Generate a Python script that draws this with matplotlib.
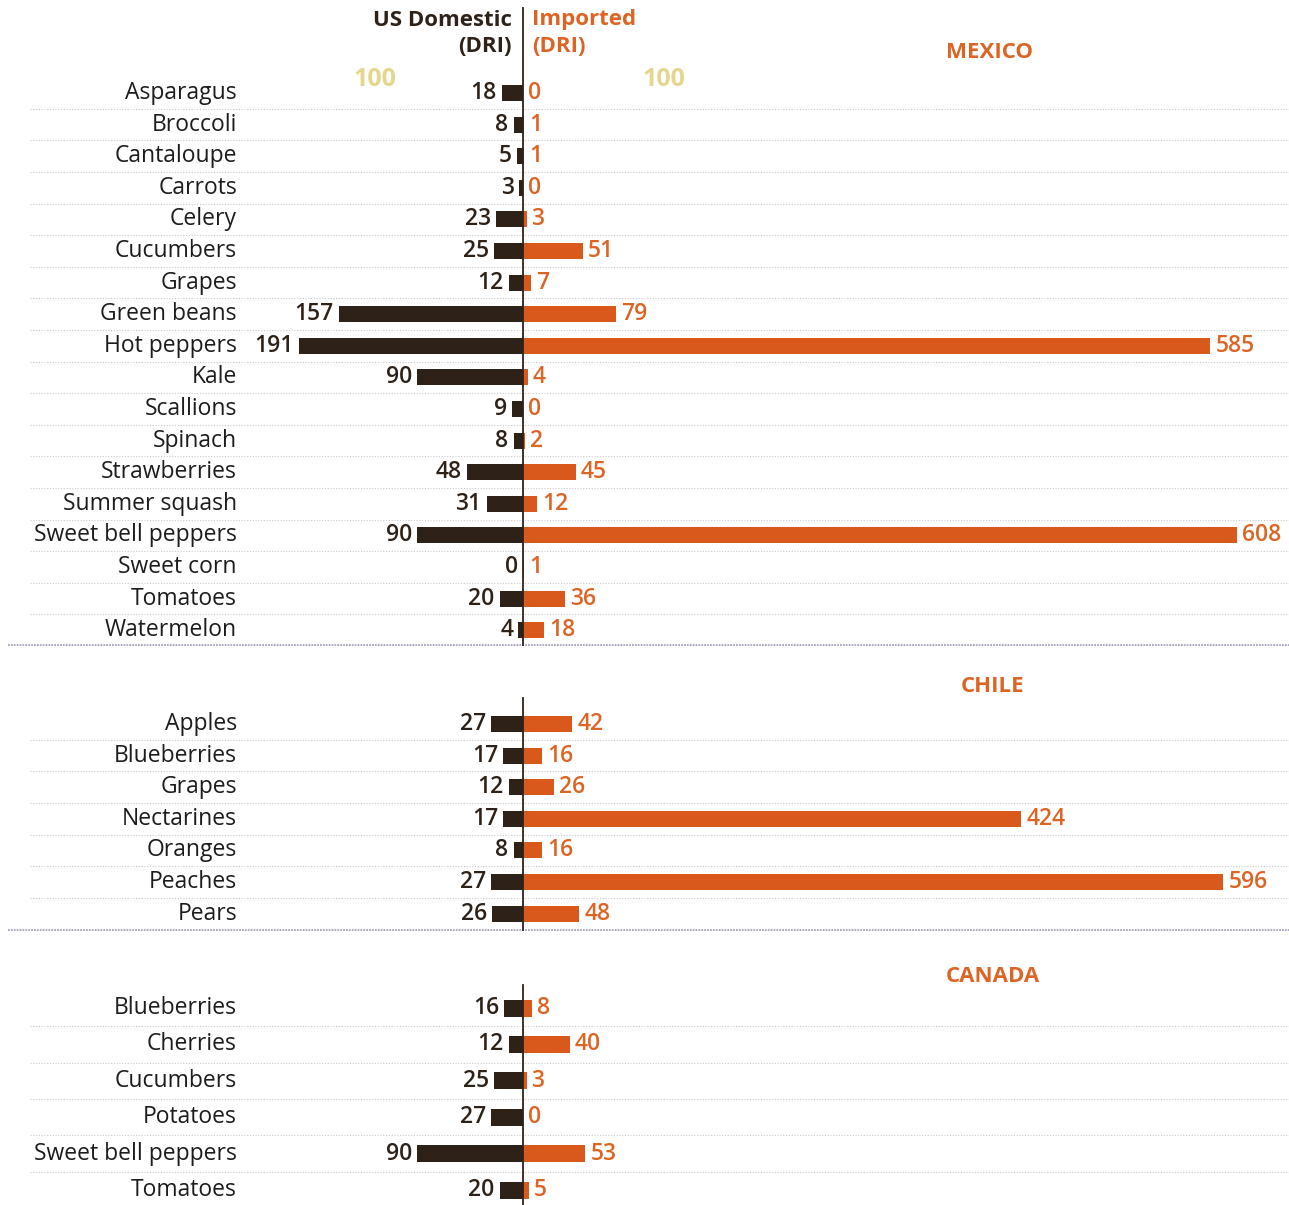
import matplotlib
matplotlib.use("Agg")
import matplotlib.pyplot as plt

# ---------------- data ----------------
mexico_items = ["Asparagus", "Broccoli", "Cantaloupe", "Carrots", "Celery", "Cucumbers",
                "Grapes", "Green beans", "Hot peppers", "Kale", "Scallions", "Spinach",
                "Strawberries", "Summer squash", "Sweet bell peppers", "Sweet corn",
                "Tomatoes", "Watermelon"]
mexico_us = [18, 8, 5, 3, 23, 25, 12, 157, 191, 90, 9, 8, 48, 31, 90, 0, 20, 4]
mexico_imp = [0, 1, 1, 0, 3, 51, 7, 79, 585, 4, 0, 2, 45, 12, 608, 1, 36, 18]

chile_items = ["Apples", "Blueberries", "Grapes", "Nectarines", "Oranges", "Peaches", "Pears"]
chile_us = [27, 17, 12, 17, 8, 27, 26]
chile_imp = [42, 16, 26, 424, 16, 596, 48]

canada_items = ["Blueberries", "Cherries", "Cucumbers", "Potatoes", "Sweet bell peppers", "Tomatoes"]
canada_us = [16, 12, 25, 27, 90, 20]
canada_imp = [8, 40, 3, 0, 53, 5]

header_left = ["US Domestic", "(DRI)"]
header_right = ["Imported", "(DRI)"]
ref_label = "100"

# ---------------- style ----------------
DARK = "#2e2218"
ORANGE = "#d9581b"
ORANGE_TXT = "#dc6424"
PALE = "#e5d68e"
TXT = "#1c1c1c"
GRID = "#c9c9cc"
SEP = "#a9a3b9"
FONT = "Open Sans"

W, H = 1289, 1205
fig = plt.figure(figsize=(W / 100, H / 100), dpi=100)
fig.patch.set_facecolor("white")

CENTER = 523.0   # px of zero line
SCALE = 1.175    # px per DRI unit
xmin = -CENTER / SCALE
xmax = (W - CENTER) / SCALE


def px2x(px):
    return (px - CENTER) / SCALE


def panel(top_px, bottom_px, first_row_px, row_px, bar_px, line_top_px,
          items, us, imp, sep):
    ax = fig.add_axes([0, 1 - bottom_px / H, 1, (bottom_px - top_px) / H])
    ax.set_xlim(xmin, xmax)
    y_top = (top_px - first_row_px) / row_px
    y_bot = (bottom_px - first_row_px) / row_px
    ax.set_ylim(y_bot, y_top)
    ax.axis("off")
    n = len(items)
    ys = list(range(n))
    h = bar_px / row_px
    ax.barh(ys, [-v for v in us], height=h, color=DARK, zorder=3)
    ax.barh(ys, imp, height=h, color=ORANGE, zorder=3)
    off = 5 / SCALE
    for i in ys:
        ax.text(px2x(237), i, items[i], ha="right", va="center", fontsize=16.5,
                color=TXT, family=FONT)
        ax.text(-us[i] - off, i, str(us[i]), ha="right", va="center", fontsize=16.5,
                color=DARK, family=FONT, fontweight="semibold")
        ax.text(imp[i] + off, i, str(imp[i]), ha="left", va="center", fontsize=16.5,
                color=ORANGE_TXT, family=FONT, fontweight="semibold")
    for i in range(n - 1):
        ax.plot([px2x(30), xmax], [i + 0.5, i + 0.5], ls=(0, (1, 1.5)), color=GRID,
                lw=0.8, zorder=1)
    if sep:
        ax.plot([px2x(8), xmax], [y_bot - 0.02, y_bot - 0.02], ls=(0, (1, 0.6)),
                color=SEP, lw=1.3, zorder=1)
    ax.plot([0, 0], [(line_top_px - first_row_px) / row_px, y_bot], color=DARK,
            lw=1.3, zorder=4)
    return ax


ax_mx = panel(0, 646, 93, 31.6, 16, 8, mexico_items, mexico_us, mexico_imp, True)
ax_cl = panel(646, 931, 724, 31.6, 16, 698, chile_items, chile_us, chile_imp, True)
ax_ca = panel(931, 1205, 1008, 36.4, 17, 985, canada_items, canada_us, canada_imp, False)

# headers
fig.text(512 / W, 1 - 20 / H, header_left[0], ha="right", va="center", fontsize=16,
         fontweight="bold", color=DARK, family=FONT)
fig.text(512 / W, 1 - 47 / H, header_left[1], ha="right", va="center", fontsize=16,
         fontweight="bold", color=DARK, family=FONT)
fig.text(532 / W, 1 - 20 / H, header_right[0], ha="left", va="center", fontsize=16,
         fontweight="bold", color=ORANGE_TXT, family=FONT)
fig.text(532 / W, 1 - 47 / H, header_right[1], ha="left", va="center", fontsize=16,
         fontweight="bold", color=ORANGE_TXT, family=FONT)
fig.text(375 / W, 1 - 80 / H, ref_label, ha="center", va="center", fontsize=18,
         fontweight="bold", color=PALE, family=FONT)
fig.text(664 / W, 1 - 80 / H, ref_label, ha="center", va="center", fontsize=18,
         fontweight="bold", color=PALE, family=FONT)

# country labels
for name, (cx, cy) in [("MEXICO", (990, 53)), ("CHILE", (993, 686)), ("CANADA", (993, 976))]:
    fig.text(cx / W, 1 - cy / H, name, ha="center", va="center", fontsize=16,
             fontweight="bold", color=ORANGE_TXT, family=FONT)

fig.savefig("out.png", dpi=100)
